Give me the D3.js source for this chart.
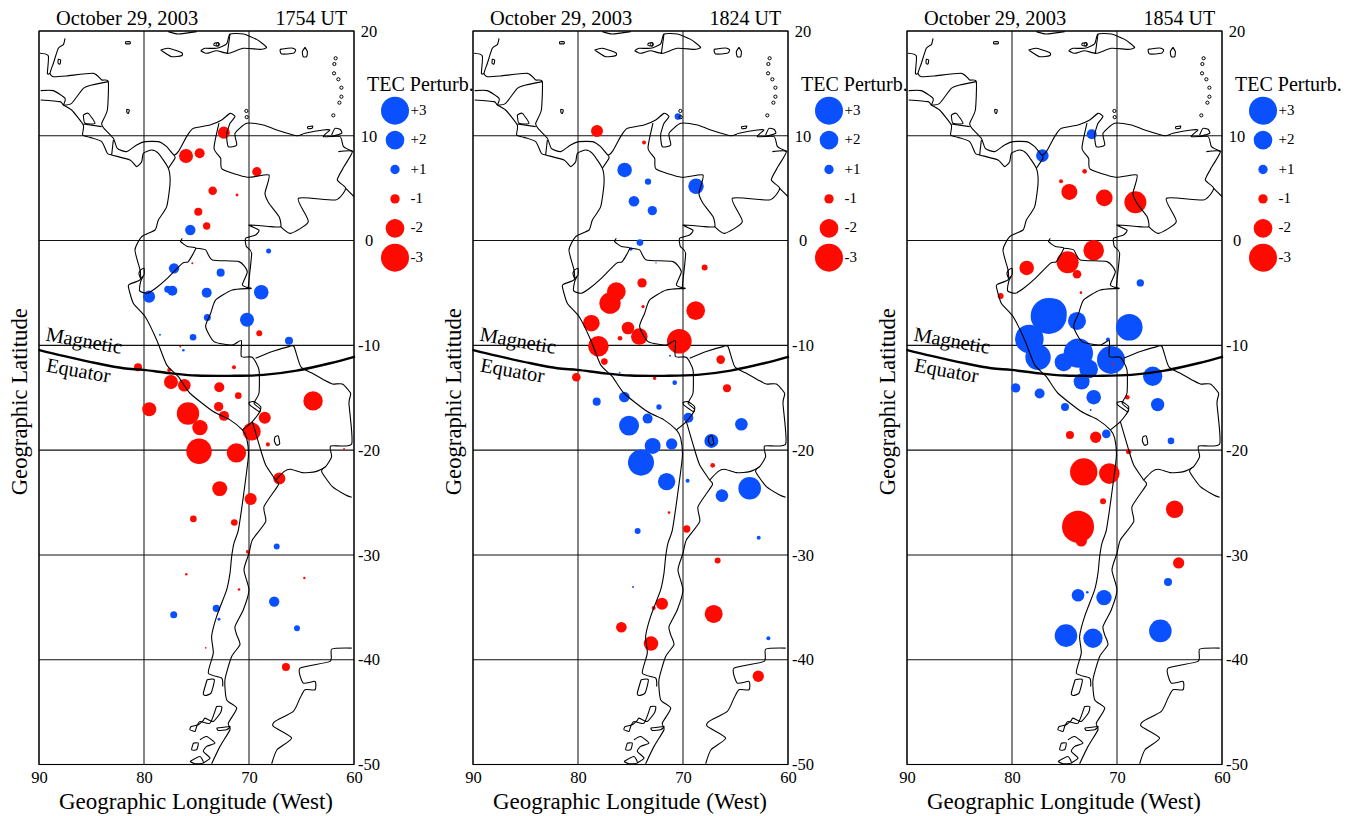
<!DOCTYPE html>
<html>
<head>
<meta charset="utf-8">
<script src="https://cdn.jsdelivr.net/npm/d3@7"></script>
<style>
  html, body { margin: 0; padding: 0; background: #fff; }
  text { font-family: "Liberation Serif", serif; fill: #000; }
</style>
</head>
<body>
<svg id="chart" width="1355" height="816"></svg>
<script>
// tec perturbation points: [lon west, lat, tec]
const points1754 = [
  [76.0,8.07,-1.5],[74.7,8.33,-1.07],[72.4,10.3,-1.29],[69.25,6.57,-1.0],[73.46,4.76,-0.92],[71.14,4.35,-0.3],
  [74.83,2.76,-0.86],[74.03,1.39,-0.79],[75.59,1.01,1.11],[68.13,-1.0,0.54],[77.14,-2.65,1.11],[75.4,-2.17,-0.21],
  [72.7,-3.06,0.86],[79.52,-5.35,1.29],[77.3,-4.78,1.07],[77.74,-4.65,0.75],[74.03,-4.97,1.07],[68.83,-4.93,1.56],
  [73.97,-7.35,0.75],[70.19,-7.55,1.5],[69.02,-8.85,-0.64],[78.48,-8.98,0.21],[75.33,-9.23,0.71],[66.19,-9.55,0.86],
  [76.54,-10.12,-0.21],[76.25,-10.47,0.28],[80.57,-12.09,-0.86],[77.6,-12.35,-0.43],[71.43,-12.09,-0.43],
  [77.43,-13.49,-1.5],[76.16,-13.8,-1.35],[72.83,-14.0,-1.07],[71.02,-14.8,-0.71],[63.9,-15.3,-2.08],[79.5,-16.1,-1.5],
  [75.81,-16.5,-2.4],[72.89,-15.85,-1.0],[72.38,-16.73,-1.07],[74.67,-17.85,-1.65],[68.5,-16.9,-1.29],[69.74,-18.23,-1.93],
  [68.2,-19.45,-0.43],[74.76,-20.1,-2.72],[71.2,-20.26,-2.08],[60.95,-19.9,-0.21],[67.11,-22.7,-1.29],[72.79,-23.67,-1.6],
  [69.84,-24.66,-1.29],[75.3,-26.56,-0.71],[71.4,-26.9,-0.71],[70.1,-29.7,-0.43],[67.36,-29.2,0.64],[75.97,-31.84,-0.26],
  [64.73,-32.2,-0.26],[70.95,-33.3,-0.28],[67.6,-34.45,1.11],[73.11,-35.1,0.79],[77.17,-35.7,0.75],[72.86,-36.14,0.32],
  [65.43,-37.0,0.64],[74.12,-38.87,-0.18],[66.48,-40.7,-0.86]
];
const points1824 = [
  [70.48,11.83,0.7],[73.71,9.35,-0.43],[78.19,10.46,-1.29],[75.56,6.74,1.56],[73.33,5.63,0.68],[68.76,5.18,1.65],
  [74.67,3.75,1.14],[72.92,2.86,1.0],[74.1,-0.19,0.71],[74.95,-0.8,0.36],[72.57,-2.13,0.15],[67.94,-2.58,-0.64],
  [73.9,-4.04,-1.0],[76.35,-4.87,-2.0],[76.95,-5.98,-2.28],[73.81,-6.3,-0.36],[68.79,-6.68,-2.0],[78.73,-7.89,-1.78],
  [75.24,-8.34,-1.35],[76.0,-9.32,-0.5],[74.16,-9.16,-1.78],[70.35,-9.61,-2.64],[78.06,-10.08,-2.2],[71.24,-10.98,0.21],
  [77.49,-11.55,-0.71],[66.41,-11.36,-0.92],[80.16,-13.04,-0.92],[72.7,-13.14,-0.36],[76.03,-12.6,0.18],[70.79,-13.56,0.5],
  [65.81,-14.1,-0.86],[75.59,-14.93,1.14],[78.22,-15.37,0.86],[72.29,-15.88,0.57],[73.37,-16.99,1.07],[69.49,-16.9,1.07],
  [75.14,-17.66,2.14],[64.44,-17.53,1.35],[67.3,-19.12,1.5],[71.08,-19.41,1.21],[72.89,-19.6,1.71],[74.0,-21.19,2.79],
  [67.17,-21.45,-0.5],[71.56,-23.0,1.86],[69.56,-22.91,0.43],[63.65,-23.64,2.42],[66.29,-24.34,1.35],[71.33,-25.96,-0.28],
  [74.32,-27.71,0.64],[69.65,-27.52,-0.79],[62.79,-28.35,0.43],[66.7,-30.54,-0.64],[74.76,-33.06,0.21],[72.0,-34.65,-1.29],
  [72.79,-35.06,-0.43],[67.08,-35.63,-1.93],[75.87,-36.9,-1.14],[61.87,-37.95,0.43],[73.05,-38.46,-1.56],[62.83,-41.58,-1.21]
];
const points1854 = [
  [72.41,10.14,1.07],[77.11,8.11,1.35],[73.08,6.61,-0.5],[75.33,5.66,-0.43],[74.54,4.64,-1.71],[71.21,4.07,-1.78],
  [68.25,3.65,-2.36],[72.22,-0.93,-2.2],[74.7,-2.07,-2.36],[78.6,-2.61,-1.56],[73.81,-3.22,-0.92],[67.78,-4.04,0.79],
  [73.43,-4.97,-0.28],[81.08,-5.28,-0.64],[76.51,-7.19,3.86],[76.13,-6.87,3.0],[73.81,-7.67,1.93],[68.83,-8.27,2.85],
  [78.35,-9.39,3.07],[77.52,-11.14,2.72],[73.68,-10.75,3.14],[75.08,-11.61,1.93],[72.7,-12.25,2.0],[70.57,-11.39,3.0],
  [70.86,-9.45,0.43],[70.35,-11.8,-0.21],[66.6,-12.95,2.07],[73.37,-13.46,1.71],[79.65,-14.06,1.0],[77.37,-14.6,1.07],
  [72.22,-14.95,1.56],[69.02,-14.95,-0.5],[66.13,-15.65,1.43],[74.95,-15.88,0.86],[72.51,-16.16,0.21],[71.02,-18.45,0.92],
  [74.48,-18.55,-0.86],[72.03,-18.77,-1.21],[64.86,-19.12,0.71],[68.89,-20.14,-0.57],[73.17,-22.08,-2.93],[70.73,-22.24,-2.2],
  [71.33,-24.88,-0.64],[64.51,-25.64,-1.86],[73.4,-28.66,-1.21],[73.71,-27.3,-3.43],[64.13,-30.76,-1.21],[65.14,-32.58,0.86],
  [73.71,-33.85,1.35],[72.83,-33.56,0.28],[71.24,-34.07,1.65],[74.86,-37.7,2.42],[72.29,-37.95,2.07],[65.87,-37.25,2.42]
];

const panelTimes = ["1754 UT", "1824 UT", "1854 UT"];
const panelPoints = [points1754, points1824, points1854];
const dateLabel = "October 29, 2003";
const lonTicks = [90, 80, 70, 60];
const latTicks = [20, 10, 0, -10, -20, -30, -40, -50];
const legendValues = [3, 2, 1, -1, -2, -3];
const legendLabels = ["+3", "+2", "+1", "-1", "-2", "-3"];

const magneticEquator = [
  [90.06,-10.43],[87.68,-11.01],[84.51,-11.71],[81.97,-12.18],[80.06,-12.34],[77.52,-12.66],
  [74.98,-12.88],[71.81,-12.91],[68.63,-12.82],[65.46,-12.41],[62.28,-11.71],[59.9,-11.07]
];

// coast and borders, lon west / lat
const coastLines = [
  // mexico, belize
  [[89.9,17.87],[89.11,17.62],[89.2,15.96],[88.95,15.96]],
  [[87.52,19.3],[87.68,18.7],[88.16,18.35],[88.63,16.92],[88.95,15.96],[88.63,15.64],[87.37,15.71],[84.83,15.96],[84.03,15.33],[83.4,15.17],
   [83.49,12.46],[84.03,11.19],[83.81,10.71],[82.92,9.76],[82.54,8.8],[81.65,8.49],[80.7,9.12],[79.9,9.44],[78.63,9.44],[77.84,8.96],[77.14,8.17],
   [76.67,8.58],[75.94,9.92],[75.3,10.71],[73.71,11.03],[72.6,11.51],[71.81,12.14],[71.33,11.83],[71.81,11.19],[72.13,10.08],[71.97,8.96],[71.17,9.12],
   [71.33,10.24],[70.22,11.19],[68.63,11.03],[67.36,10.55],[65.46,10.01],[64.67,10.24],[62.92,10.55],[62.29,10.55],[62.92,9.92],[61.33,9.92],[61.0,8.96],[60.06,8.49]],
  // pacific side down to chile
  [[89.84,13.42],[88,13.26],[87.68,12.94],[86.89,12.46],[85.78,11.03],[85.84,10.08],[85.14,9.85],[84.03,9.44],[83.49,8.33],[83.08,8.17],[81.33,7.69],
   [80.7,7.06],[80.22,7.53],[80.06,8.33],[79.27,8.65],[78.63,8.33],[77.68,6.9],[77.52,5.46],[77.84,3.24],[78.63,1.97],[78.95,1.01],[80.22,0.38],[80.86,-0.9],
   [80.38,-2.8],[80.38,-3.75],[81.33,-4.14],[81.49,-4.39],[81.02,-5.98],[79.9,-7.25],[78.79,-9.48],[77.84,-11.86],[76.73,-12.98],[75.62,-14.57],[73.4,-16.32],
   [71.81,-17.11],[70.63,-18.07],[70.22,-18.86],[70.06,-20.61],[70.54,-24.43],[71.01,-27.6],[71.43,-28.87],[71.65,-30.14],[71.81,-31.73],[72.13,-33.33],
   [73.08,-35.87],[73.56,-37.78],[73.4,-39.37],[73.87,-41.28],[72.6,-41.75],[72.51,-42.55]],
  // central america borders
  [[87.68,12.94],[86.89,13.1],[85.78,14.53],[84.98,14.85],[83.4,15.17]],
  [[89.84,14.31],[88.63,14.31],[87.52,13.57],[87.68,12.94]],
  [[85.78,11.99],[85.3,12.14],[84.67,11.19],[85.62,11.19],[85.78,11.99]],
  [[85.78,11.13],[84.03,10.87]],
  [[82.92,9.6],[83.08,8.17]],
  [[77.14,8.17],[77.05,7.85],[77.68,6.9]],
  // colombia / venezuela / brazil / bolivia
  [[72.86,11.2],[73.33,8.81],[72.7,7.85],[72.54,6.8],[70.16,6.04],[68.1,6.26],[68.48,4.51],[68.1,3.56],[67.14,2.29],[66.98,1.33],[67.94,1.33],[70,1.49],
   [69.05,1.0],[69.37,0.54],[70.32,0.22],[70.25,-0.57],[69.75,-1.21],[70.06,-4.39],[69.81,-4.55],[71.59,-4.71],[73.17,-5.66],[73.65,-6.94],[74.13,-8.21],
   [73.33,-9.64],[71.59,-9.96],[70.73,-9.54],[70.73,-11.07],[69.68,-11.14],[69.05,-12.34],[69.05,-14.57],[69.52,-15.53],[68.89,-16.16],[69.68,-17.28],[70.63,-18.07]],
  [[66.98,1.33],[66.03,0.69],[64.35,1.81],[65.3,4.04],[61.75,3.88],[60.79,4.99],[61.59,5.79],[60.95,7.06],[60.16,8.49],[61.49,8.49]],
  [[60.79,4.99],[60,4.2]],
  // ecuador / peru
  [[76.35,0.22],[76.51,-0.1],[75.87,-0.57],[75.08,-0.73],[75.78,-2],[76.35,-2.17],[77.94,-3.76],[78.89,-4.55],[79.68,-5.03],[80.41,-4.8],[80.32,-3.91],[80.1,-3.44]],
  [[75.08,-0.73],[74.13,-0.89],[73.49,-1.85],[70.95,-2.01],[70.16,-2.96],[70.63,-4.23],[69.81,-4.55]],
  [[80.32,-2.8],[80,-2.64],[80,-3.28],[80.32,-3.6],[80.48,-3.12],[80.32,-2.8]],
  // brazil / bolivia / paraguay
  [[69.37,-11.23],[67.78,-10.59],[66.19,-10.12],[65.71,-10.12],[65.08,-12.02],[63.97,-12.67],[62.86,-13.3],[62.06,-13.69],[61.11,-13.69],[60.32,-14.58],[60.48,-15.53],
   [60.22,-19.41],[62.22,-19.6],[62.13,-20.62],[62.7,-21.57],[63.65,-22.05],[64.92,-22.15],[66.03,-21.83],[66.67,-22.05],[67.46,-22.85]],
  [[62.7,-21.57],[63.08,-22.05],[62.06,-23.48],[60.79,-24.28],[60.22,-24.5]],
  // andes border, chile side
  [[69.68,-17.28],[68.89,-19.98],[68.41,-21.41],[67.46,-22.85],[67.21,-23.32],[68.57,-25.39],[68.41,-26.82],[69.68,-28.57],[70,-29.84],[70.48,-31.43],[70,-33.34],
   [70.54,-35.23],[71.33,-36.82],[71.17,-37.62],[70.86,-38.57],[71.65,-39.69],[72.29,-41.91],[72.13,-43.82],[71.17,-44.62],[71.97,-46.05],[71.81,-46.68],[72.76,-48.27],[73.56,-49.93]],
  // argentina coast
  [[60.22,-38.89],[62.12,-38.99],[62.28,-40.16],[65.14,-40.8],[64.83,-42.23],[63.71,-42.07],[63.71,-42.87],[64.67,-42.87],[65.14,-43.66],[65.78,-44.93],[67.52,-45.89],
   [67.68,-46.37],[65.94,-47.48],[67.33,-48.59],[67.84,-49.93]],
  // lakes
  [[70,-15.44],[69.52,-15.37],[68.89,-15.85],[68.98,-16.33],[69.37,-16.1],[69.94,-15.69],[70,-15.44]],
  [[67.52,-18.71],[67.21,-18.65],[67.08,-19.41],[67.4,-19.51],[67.59,-19.09],[67.52,-18.71]],
  // caribbean islands
  [[77.68,19.94],[76.73,19.71],[74.98,19.94]],
  [[74.6,18.12],[74.19,18.35],[73.08,18.35],[72.13,18.76],[71.81,19.71],[70.54,19.71],[69.27,19.2],[68.32,18.44],[68.95,18.25],[70.54,18.35],[71.97,17.87],[73.08,18.12],[74.03,17.87],[74.6,18.12]],
  [[71.81,19.71],[72.06,17.87]],
  [[73.33,18.82],[72.92,18.89],[72.92,18.57],[73.33,18.63],[73.33,18.82]],
  [[78.41,18.19],[77.68,18.35],[76.41,17.93],[76.41,17.65],[77.37,17.55],[78.41,18.19]],
  [[67.05,18.25],[65.94,18.38],[65.56,18.19],[65.78,17.87],[66.89,17.81],[67.05,18.25]],
  [[64.67,18.44],[64.44,18.03],[64.51,17.55],[64.83,17.55],[64.92,18.03],[64.67,18.44]],
  [[81.75,18.98],[81.33,18.98],[81.33,18.79],[81.75,18.79],[81.75,18.98]],
  [[88.16,17.33],[87.94,17.23],[88,16.85],[88.19,16.93],[88.16,17.33]],
  [[81.65,12.53],[81.4,12.46],[81.49,12.14],[81.62,12.21],[81.65,12.53]],
  [[64.44,10.87],[63.94,10.93],[64,10.71],[64.38,10.68],[64.44,10.87]],
  [[62.13,10.08],[61.81,10.71],[61.33,10.62],[61.17,10.24],[62.13,9.92]],
  // chiloe and the fjords
  [[73.99,-41.91],[73.3,-41.91],[73.62,-43.19],[74.19,-43.41],[74.35,-43.19],[73.99,-41.91]],
  [[73.09,-44.46],[72.6,-44.46],[72.7,-45.03],[73.4,-45.89],[74.19,-45.57],[74.35,-45.79],[74.83,-46.21],[75.5,-46.37],[75.62,-46.68],[75.14,-46.84],[74.98,-46.37],[74.67,-45.89],[73.71,-46.05],[73.09,-44.46]],
  [[73.08,-46.52],[71.81,-46.37],[72.13,-46.68],[72.92,-46.75],[73.08,-46.52]],
  [[75.3,-47.96],[74.83,-47.96],[74.98,-48.59],[75.46,-48.59],[75.3,-47.96]],
  [[74.67,-47.64],[74.03,-47.33],[73.24,-47.96],[74.03,-48.27],[74.35,-48.75],[73.71,-49.39],[74.35,-49.86]],
  [[75.62,-49.71],[74.67,-49.23],[74.35,-49.86],[75.14,-49.93],[75.62,-49.71]]
];
// very small islands, one ring each
const islets = [
  [61.75,17.4],[61.87,16.85],[61.9,15.96],[61.49,15.39],[61.2,14.59],[61.2,13.73],[61.39,13.16],[61.97,11.95],[70.25,12.37],[70.22,11.78],[72.96,18.72]
];

const panelXs = [39, 473, 907];
const panelTop = 31, panelW = 315, panelH = 733.5;

const lonScale = d3.scaleLinear().domain([90, 60]).range([0, panelW]);
const latScale = d3.scaleLinear().domain([20, -50]).range([0, panelH]);
const sizeScale = d3.scaleLinear().domain([0, 3]).range([0, 14]);
const legendY = d3.scalePoint().domain(legendValues).range([79.7, 226.7]);
const tecColor = v => v > 0 ? "#0a50ff" : "#ff0a00";

const svg = d3.select("#chart");
const coastPath = d3.line().x(d => lonScale(d[0])).y(d => latScale(d[1])).curve(d3.curveCardinal.tension(0.4));
const equatorPath = d3.line().x(d => lonScale(d[0])).y(d => latScale(d[1])).curve(d3.curveCatmullRom);

svg.append("defs").append("clipPath").attr("id", "plotClip")
  .append("rect").attr("width", panelW).attr("height", panelH);

panelPoints.forEach((points, i) => {
  const g = svg.append("g").attr("transform", `translate(${panelXs[i]},${panelTop})`);

  // white so the next panel covers the end of the legend title, same as the original
  g.append("rect").attr("width", panelW).attr("height", panelH).attr("fill", "#fff");

  // grid
  g.selectAll(".vgrid").data(lonTicks).enter().append("line")
    .attr("x1", d => lonScale(d)).attr("x2", d => lonScale(d))
    .attr("y1", 0).attr("y2", panelH)
    .attr("stroke", "#222").attr("stroke-width", 1.1);
  g.selectAll(".hgrid").data(latTicks).enter().append("line")
    .attr("x1", 0).attr("x2", panelW)
    .attr("y1", d => latScale(d)).attr("y2", d => latScale(d))
    .attr("stroke", "#111").attr("stroke-width", 1.1);

  // tec dots
  g.selectAll(".dot").data(points).enter().append("circle")
    .attr("cx", d => lonScale(d[0])).attr("cy", d => latScale(d[1]))
    .attr("r", d => sizeScale(Math.abs(d[2])))
    .attr("fill", d => tecColor(d[2]));

  // map
  const map = g.append("g").attr("clip-path", "url(#plotClip)");
  map.selectAll("path").data(coastLines).enter().append("path")
    .attr("d", coastPath).attr("fill", "none")
    .attr("stroke", "#000").attr("stroke-width", 1.1).attr("stroke-linejoin", "round");
  map.selectAll("circle").data(islets).enter().append("circle")
    .attr("cx", d => lonScale(d[0])).attr("cy", d => latScale(d[1])).attr("r", 1.6)
    .attr("fill", "none").attr("stroke", "#000").attr("stroke-width", 1);

  // magnetic equator
  g.append("path").datum(magneticEquator).attr("d", equatorPath)
    .attr("fill", "none").attr("stroke", "#000").attr("stroke-width", 2.4);
  g.append("text").attr("transform", "translate(6,309.5) rotate(10)").attr("font-size", 20.4).text("Magnetic");
  g.append("text").attr("transform", "translate(6.5,340.5) rotate(10)").attr("font-size", 20.4).text("Equator");

  // axes
  const xAxis = g.append("g").attr("transform", `translate(0,${panelH})`)
    .call(d3.axisBottom(lonScale).tickValues(lonTicks).tickSize(0).tickPadding(7).tickFormat(d3.format("d")));
  xAxis.select(".domain").remove();
  xAxis.selectAll("text").attr("font-size", 16.5).attr("font-family", "Liberation Serif").attr("fill", "#000");

  const yAxis = g.append("g").attr("transform", `translate(${panelW},0)`)
    .call(d3.axisRight(latScale).tickValues(latTicks).tickSize(0).tickPadding(15).tickFormat(d => String(d)));
  yAxis.select(".domain").remove();
  yAxis.selectAll("text").attr("font-size", 16.5).attr("font-family", "Liberation Serif").attr("fill", "#000")
    .attr("text-anchor", "middle");

  g.append("rect").attr("width", panelW).attr("height", panelH)
    .attr("fill", "none").attr("stroke", "#000").attr("stroke-width", 1.1);

  // titles
  g.append("text").attr("x", 17).attr("y", -6).attr("font-size", 20.4).text(dateLabel);
  g.append("text").attr("x", 236.5).attr("y", -6).attr("font-size", 20).text(panelTimes[i]);
  g.append("text").attr("x", panelW / 2 - 0.5).attr("y", 778).attr("text-anchor", "middle")
    .attr("font-size", 23).text("Geographic Longitude (West)");
  g.append("text").attr("transform", `translate(-12,${panelH / 2 + 4}) rotate(-90)`)
    .attr("text-anchor", "middle").attr("font-size", 22.7).text("Geographic Latitude");

  // legend
  const legend = g.append("g").attr("transform", `translate(${panelW},0)`);
  legend.append("text").attr("x", 13).attr("y", 60).attr("font-size", 20).text("TEC Perturb.");
  legend.selectAll("circle").data(legendValues).enter().append("circle")
    .attr("cx", 41).attr("cy", d => legendY(d))
    .attr("r", d => sizeScale(Math.abs(d))).attr("fill", d => tecColor(d));
  legend.selectAll(".lab").data(legendLabels).enter().append("text")
    .attr("x", 56.5).attr("y", (d, k) => legendY(legendValues[k]) + 4)
    .attr("font-size", 15).text(d => d);
});
</script>
</body>
</html>
